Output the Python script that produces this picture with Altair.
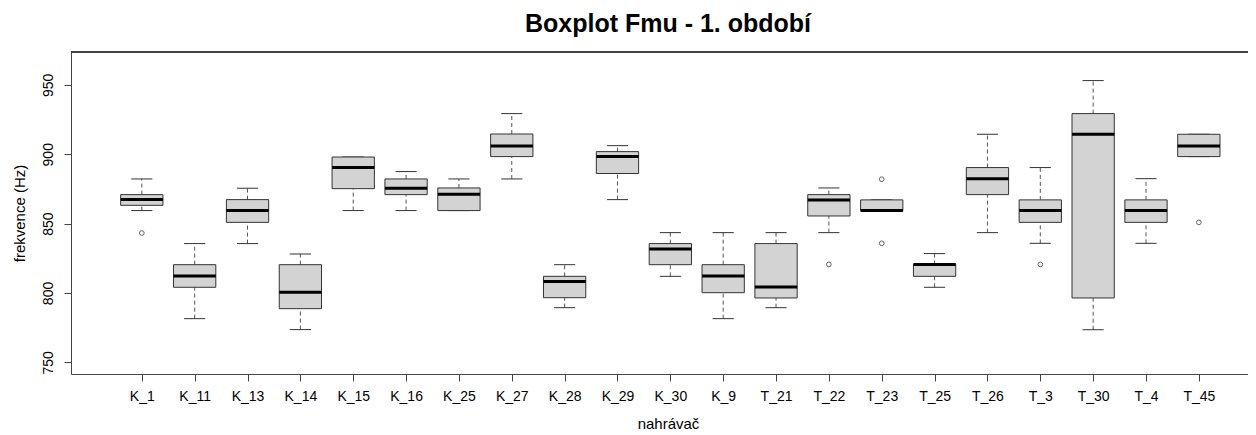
import altair as alt
import pandas as pd

categories = ["K_1", "K_11", "K_13", "K_14", "K_15", "K_16", "K_25", "K_27", "K_28", "K_29", "K_30",
              "K_9", "T_21", "T_22", "T_23", "T_25", "T_26", "T_3", "T_30", "T_4", "T_45"]
whisker_low = [859.4, 781.5, 835.6, 773.6, 859.4, 859.4, 859.4, 882.2, 789.4, 867.3, 812.0,
               781.5, 789.4, 843.5, 859.4, 804.1, 843.5, 835.8, 773.5, 835.8, 898.3]
q1 = [863.2, 804.1, 850.9, 788.7, 875.2, 870.9, 859.4, 898.3, 796.6, 886.1, 820.4,
      800.2, 796.4, 855.5, 859.4, 812.0, 870.9, 850.9, 796.4, 850.9, 898.3]
median = [867.3, 812.2, 859.4, 800.5, 890.4, 875.5, 871.1, 906.0, 808.2, 898.3, 831.7,
          812.2, 804.3, 867.1, 859.4, 820.6, 882.4, 859.4, 914.4, 859.4, 906.0]
q3 = [870.9, 820.4, 867.3, 820.4, 898.0, 882.2, 875.7, 914.6, 812.0, 901.9, 835.6,
      820.4, 835.6, 870.9, 867.1, 820.6, 890.4, 867.1, 929.3, 867.1, 914.4]
whisker_high = [882.2, 835.6, 875.5, 828.1, 898.0, 887.5, 882.2, 929.3, 820.4, 906.2, 843.5,
                843.5, 843.5, 875.7, 867.1, 828.4, 914.4, 890.4, 953.1, 882.4, 914.4]
outlier_cat = ["K_1", "T_22", "T_23", "T_23", "T_3", "T_45"]
outlier_val = [843.2, 820.6, 882.0, 835.8, 820.6, 850.9]
y_ticks = [750, 800, 850, 900, 950]

FONT = "Liberation Sans"
W, H = 1177, 322

df = pd.DataFrame({
    "cat": categories,
    "idx": list(range(1, len(categories) + 1)),
    "lo": whisker_low, "q1": q1, "med": median, "q3": q3, "hi": whisker_high,
})
odf = pd.DataFrame({
    "cat": outlier_cat,
    "idx": [categories.index(c) + 1 for c in outlier_cat],
    "val": outlier_val,
})

xscale = alt.Scale(domain=[-0.34, 21.93], nice=False, zero=False)
yscale = alt.Scale(domain=[741.6, 973.7], nice=False, zero=False)

label_arr = "[" + ",".join("'%s'" % c for c in categories) + "]"
xaxis = alt.Axis(values=list(range(1, len(categories) + 1)), labelExpr=label_arr + "[datum.value-1]",
                 title="nahrávač", grid=False, tickSize=7, tickColor="#444", domainColor="#444",
                 labelFont=FONT, labelFontSize=14, labelColor="black", labelBaseline="middle",
                 labelPadding=15, labelFlush=False, labelOverlap=False,
                 titleFont=FONT, titleFontSize=15, titleFontWeight="normal", titleColor="black",
                 titleX=597, titleY=54, titleAlign="center", titleBaseline="alphabetic")
yaxis = alt.Axis(values=y_ticks, title="frekvence (Hz)", grid=False, tickSize=7, tickColor="#444",
                 domainColor="#444", labelFont=FONT, labelFontSize=14, labelColor="black",
                 labelAngle=-90, labelAlign="center", labelBaseline="middle", labelPadding=16,
                 labelFlush=False,
                 titleFont=FONT, titleFontSize=15, titleFontWeight="normal", titleColor="black",
                 titleAngle=-90, titleX=-52, titleY=161, titleAlign="center", titleBaseline="middle")

base = alt.Chart(df).transform_calculate(
    xl="datum.idx - 0.4", xr="datum.idx + 0.4", cl="datum.idx - 0.2", cr="datum.idx + 0.2"
)

whisk_up = base.mark_rule(strokeDash=[4, 3], color="#555", strokeWidth=1).encode(
    x=alt.X("idx:Q", scale=xscale, axis=xaxis),
    y=alt.Y("q3:Q", scale=yscale, axis=yaxis),
    y2="hi:Q",
)
whisk_dn = base.mark_rule(strokeDash=[4, 3], color="#555", strokeWidth=1).encode(
    x="idx:Q", y="lo:Q", y2="q1:Q"
)
cap_hi = base.mark_rule(color="#333", strokeWidth=1).encode(x="cl:Q", x2="cr:Q", y="hi:Q")
cap_lo = base.mark_rule(color="#333", strokeWidth=1).encode(x="cl:Q", x2="cr:Q", y="lo:Q")
box = base.mark_rect(fill="#d3d3d3", stroke="#333", strokeWidth=1).encode(
    x="xl:Q", x2="xr:Q", y="q1:Q", y2="q3:Q"
)
med = base.mark_rule(color="black", strokeWidth=3).encode(x="xl:Q", x2="xr:Q", y="med:Q")
outl = alt.Chart(odf).mark_point(shape="circle", filled=False, size=22, color="#222", strokeWidth=1).encode(
    x="idx:Q", y="val:Q"
)
topline = alt.Chart(df).mark_rule(color="#444", strokeWidth=1).encode(
    x=alt.value(0), x2=alt.value(W), y=alt.value(0)
)

chart = alt.layer(whisk_up, whisk_dn, cap_hi, cap_lo, box, med, outl, topline).properties(
    width=W, height=H,
    title=alt.TitleParams("Boxplot Fmu - 1. období", font=FONT, fontSize=25, fontWeight="bold",
                          color="black", anchor="middle", frame="group", dx=8.5, offset=15),
    autosize=alt.AutoSizeParams(type="none"),
    padding={"left": 63, "top": 44, "right": 0, "bottom": 61},
).configure_view(stroke=None).configure(background="white")

chart.save("out.html", embed_options={"renderer": "svg", "actions": False})
